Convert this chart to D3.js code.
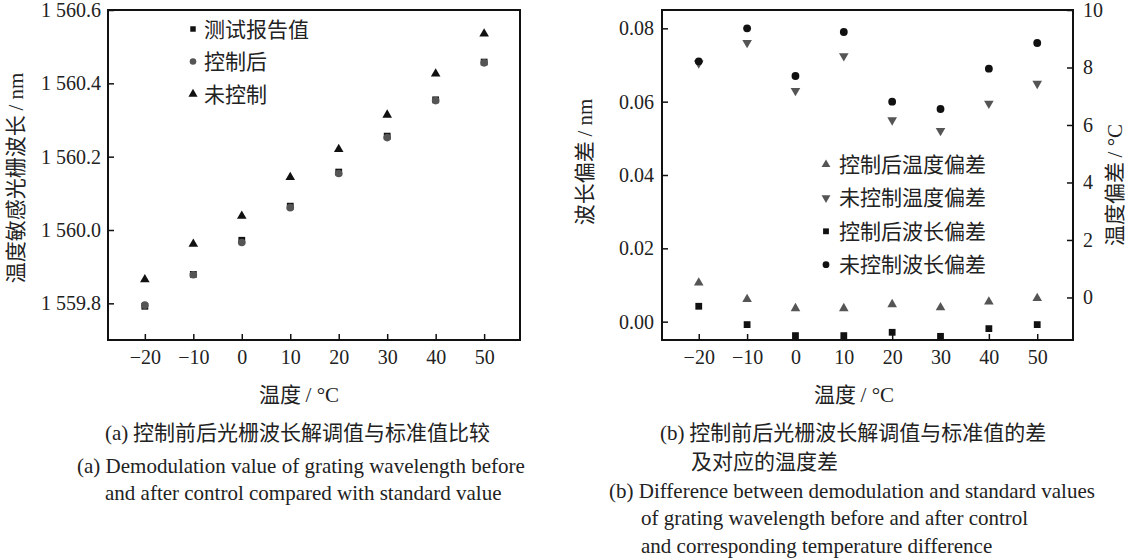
<!DOCTYPE html>
<html>
<head>
<meta charset="utf-8">
<script src="https://cdn.jsdelivr.net/npm/d3@7"></script>
<style>
  body { margin: 0; background: #fff; }
  .tick text { font-family: "Liberation Serif", serif; font-size: 20px; fill: #222; }
  .cjk { font-family: "Noto Sans CJK SC", sans-serif; fill: #222; }
  .serif { font-family: "Liberation Serif", serif; fill: #222; }
</style>
</head>
<body>
<svg id="chart" width="1137" height="560"></svg>
<script>
// temperatures on the x axis
var temps = [-20, -10, 0, 10, 20, 30, 40, 50];

// (a) grating wavelength, nm
var reportWl = [1559.792, 1559.879, 1559.972, 1560.065, 1560.158, 1560.256, 1560.355, 1560.458];
var controlledWl = [1559.795, 1559.878, 1559.966, 1560.061, 1560.154, 1560.252, 1560.353, 1560.456];
var uncontrolledWl = [1559.865, 1559.962, 1560.038, 1560.144, 1560.220, 1560.314, 1560.426, 1560.535];

// (b) deviations
var controlledTempErr = [0.51, -0.06, -0.38, -0.38, -0.24, -0.35, -0.15, -0.03];
var uncontrolledTempErr = [8.15, 8.86, 7.19, 8.40, 6.17, 5.80, 6.75, 7.44];
var controlledWlErr = [0.0042, -0.0008, -0.0038, -0.0038, -0.0029, -0.004, -0.0019, -0.0008];
var uncontrolledWlErr = [0.071, 0.080, 0.067, 0.079, 0.060, 0.058, 0.069, 0.076];

// tick values
var xTicks = [-20, -10, 0, 10, 20, 30, 40, 50];
var wlTicks = [1559.8, 1560.0, 1560.2, 1560.4, 1560.6];
var wlErrTicks = [0.00, 0.02, 0.04, 0.06, 0.08];
var tempErrTicks = [0, 2, 4, 6, 8, 10];

var svg = d3.select("#chart");
var black = "#111", gray = "#555";

function fmtWl(v) {
  var s = v.toFixed(1);
  return s.slice(0, 1) + " " + s.slice(1);
}

function frame(g, w, h) {
  g.append("rect")
    .attr("width", w).attr("height", h)
    .attr("fill", "none").attr("stroke", "#111").attr("stroke-width", 2);
}

function styleAxis(a) {
  a.select(".domain").remove();
  a.selectAll(".tick line").attr("stroke", "#111").attr("stroke-width", 1.5);
}

function dots(g, x, y, xs, ys, type, size, color, rot) {
  g.append("g").selectAll("path")
    .data(xs.map(function (d, i) { return [d, ys[i]]; }))
    .enter().append("path")
    .attr("d", d3.symbol().type(type).size(size)())
    .attr("fill", color)
    .attr("transform", function (d) {
      return "translate(" + x(d[0]) + "," + y(d[1]) + ")" + (rot ? " rotate(" + rot + ")" : "");
    });
}

function legend(g, items, x0, y0, dy, gap) {
  items.forEach(function (it, i) {
    var row = g.append("g").attr("transform", "translate(" + x0 + "," + (y0 + i * dy) + ")");
    row.append("path")
      .attr("d", d3.symbol().type(it.type).size(it.size)())
      .attr("fill", it.color)
      .attr("transform", it.rot ? "rotate(" + it.rot + ")" : null);
    row.append("text").attr("class", "cjk")
      .attr("x", gap).attr("dy", "0.36em")
      .style("font-size", "21px")
      .text(it.label);
  });
}

function title(tx, ty, rotate, html) {
  svg.append("text").attr("class", "cjk")
    .attr("transform", "translate(" + tx + "," + ty + ")" + (rotate ? " rotate(-90)" : ""))
    .attr("text-anchor", "middle").style("font-size", "21px")
    .html(html);
}

// ---------- panel (a) ----------
(function () {
  var m = {left: 108, top: 10}, w = 412, h = 330;
  var g = svg.append("g").attr("transform", "translate(" + m.left + "," + m.top + ")");

  var x = d3.scaleLinear().domain([-27.6, 57.4]).range([0, w]);
  var y = d3.scaleLinear().domain([1559.7, 1560.6]).range([h, 0]);

  g.append("g").attr("transform", "translate(0," + h + ")")
    .call(d3.axisBottom(x).tickValues(xTicks).tickSizeInner(-6).tickPadding(10))
    .call(styleAxis);
  g.append("g")
    .call(d3.axisLeft(y).tickValues(wlTicks).tickFormat(fmtWl).tickSizeInner(-6).tickPadding(7))
    .call(styleAxis);
  frame(g, w, h);

  dots(g, x, y, temps, uncontrolledWl, d3.symbolTriangle, 40, black);
  dots(g, x, y, temps, reportWl, d3.symbolSquare, 46, black);
  dots(g, x, y, temps, controlledWl, d3.symbolCircle, 46, gray);

  legend(g, [
    {label: "测试报告值", type: d3.symbolSquare, size: 30, color: black},
    {label: "控制后", type: d3.symbolCircle, size: 34, color: gray},
    {label: "未控制", type: d3.symbolTriangle, size: 36, color: black}
  ], 85, 19, 32.5, 11);

  title(23, 178, true, '温度敏感光栅波长 <tspan class="serif">/ nm</tspan>');
  title(299, 402, false, '温度 <tspan class="serif">/ °C</tspan>');
})();

// ---------- panel (b) ----------
(function () {
  var m = {left: 662, top: 10}, w = 411, h = 330;
  var g = svg.append("g").attr("transform", "translate(" + m.left + "," + m.top + ")");

  var x = d3.scaleLinear().domain([-27.6, 57.4]).range([0, w]);
  var y = d3.scaleLinear().domain([-0.005, 0.085]).range([h, 0]);
  var y2 = d3.scaleLinear().domain([-1.48, 10]).range([h, 0]);

  g.append("g").attr("transform", "translate(0," + h + ")")
    .call(d3.axisBottom(x).tickValues(xTicks).tickSizeInner(-6).tickPadding(10))
    .call(styleAxis);
  g.append("g")
    .call(d3.axisLeft(y).tickValues(wlErrTicks).tickFormat(d3.format(".2f")).tickSizeInner(-6).tickPadding(8))
    .call(styleAxis);
  g.append("g").attr("transform", "translate(" + w + ",0)")
    .call(d3.axisRight(y2).tickValues(tempErrTicks).tickSizeInner(-6).tickPadding(10))
    .call(styleAxis);
  frame(g, w, h);

  dots(g, x, y2, temps, controlledTempErr, d3.symbolTriangle, 40, gray);
  dots(g, x, y2, temps, uncontrolledTempErr, d3.symbolTriangle, 40, gray, 180);
  dots(g, x, y, temps, controlledWlErr, d3.symbolSquare, 46, black);
  dots(g, x, y, temps, uncontrolledWlErr, d3.symbolCircle, 48, black);

  legend(g, [
    {label: "控制后温度偏差", type: d3.symbolTriangle, size: 34, color: gray},
    {label: "未控制温度偏差", type: d3.symbolTriangle, size: 34, color: gray, rot: 180},
    {label: "控制后波长偏差", type: d3.symbolSquare, size: 34, color: black},
    {label: "未控制波长偏差", type: d3.symbolCircle, size: 36, color: black}
  ], 164, 154.5, 33.4, 13);

  title(592, 162, true, '波长偏差 <tspan class="serif">/ nm</tspan>');
  title(1122, 185, true, '温度偏差 <tspan class="serif">/ °C</tspan>');
  title(854, 402, false, '温度 <tspan class="serif">/ °C</tspan>');
})();

// ---------- captions ----------
function caption(x, y, html, cls) {
  svg.append("text").attr("class", cls)
    .attr("x", x).attr("y", y)
    .style("font-size", "21px")
    .html(html);
}
caption(105, 440, '<tspan class="serif">(a)</tspan> 控制前后光栅波长解调值与标准值比较', "cjk");
caption(77, 473, "(a) Demodulation value of grating wavelength before", "serif");
caption(105, 500, "and after control compared with standard value", "serif");

caption(660, 440, '<tspan class="serif">(b)</tspan> 控制前后光栅波长解调值与标准值的差', "cjk");
caption(691, 469, "及对应的温度差", "cjk");
caption(609, 498, "(b) Difference between demodulation and standard values", "serif");
caption(641, 525, "of grating wavelength before and after control", "serif");
caption(641, 553, "and corresponding temperature difference", "serif");
</script>
</body>
</html>
